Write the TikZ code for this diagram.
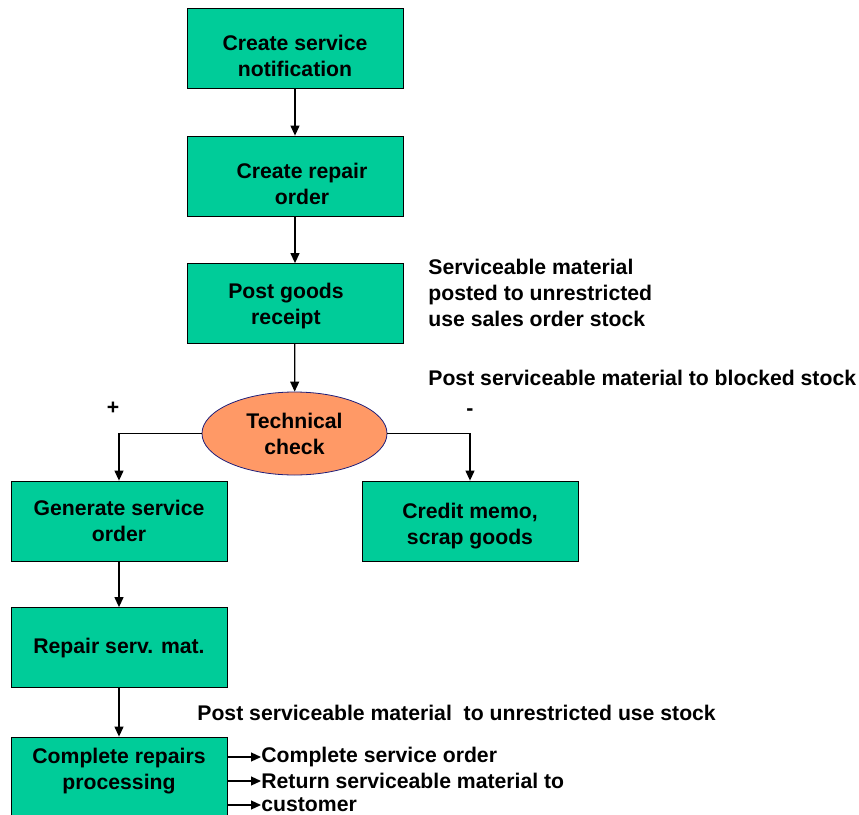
\documentclass[tikz,border=0pt]{standalone}
\usepackage{fontspec}
\setmainfont{Liberation Sans}
\usepackage{xcolor}
\usetikzlibrary{arrows.meta,positioning,shapes.geometric}

\definecolor{stepgreen}{HTML}{00CC99}
\definecolor{checkorange}{HTML}{FF9966}
\definecolor{checkline}{HTML}{1F1F7A}

\begin{document}
\begin{tikzpicture}[x=0.5pt, y=-0.5pt,
    font=\fontsize{10.6}{13}\selectfont\bfseries,
    stepbox/.style={rectangle, draw=black, fill=stepgreen, minimum width=108pt, minimum height=40pt, inner sep=0pt},
    steptext/.style={align=center, inner sep=0pt},
    checkbox/.style={ellipse, draw=checkline, fill=checkorange, minimum width=92.5pt, minimum height=41.5pt, align=center, inner sep=0pt},
    note/.style={anchor=west, align=left, inner sep=0pt},
    arr/.style={-{Triangle[length=5pt, width=4.5pt]}, black, line width=0.6pt}]

    \clip (0,0) rectangle (859,815);
    \useasboundingbox (0,0) rectangle (859,815);

    % Boxes
    \node[stepbox] (notif) at (295,48) {};
    \node[stepbox] (repord) at (295,176) {};
    \node[stepbox] (gr) at (295,303.5) {};
    \node[checkbox] (check) at (294.5,433.5) {Technical\\check};

    \node[stepbox] (gen) at (119,521) {};
    \node[stepbox] (credit) at (470,521) {};
    \node[stepbox] (repair) at (119,647.5) {};
    \node[stepbox] (complete) at (119,777) {};

    % Box texts
    \node[steptext] (notif-t) at (295,56) {Create service\\notification};
    \node[steptext] (repord-t) at (302,184) {Create repair\\order};
    \node[steptext] (gr-t) at (286,306) {Post goods\\receipt};
    \node[steptext] (gen-t) at (119,521) {Generate service\\order};
    \node[steptext] (credit-t) at (470,526) {Credit memo,\\scrap goods};
    \node[steptext] (repair-t) at (119,648) {Repair serv. mat.};
    \node[steptext] (complete-t) at (119,771) {Complete repairs\\processing};

    % Notes
    \node[note] (n1) at (428,293) {Serviceable material\\posted to unrestricted\\use sales order stock};
    \node[note] (n2) at (428,378) {Post serviceable material to blocked stock};
    \node (plus) at (113,408) {+};
    \node (minus) at (470,412) {-};
    \node[note] (n3) at (197,713) {Post serviceable material\ \ to unrestricted use stock};

    \node[note] (r1) at (261,757) {Complete service order};
    \node[note] (r2) at (261,781) {Return serviceable material to};
    \node[note] (r3) at (261,805) {customer};

    % Draw connections
    \draw[arr] (notif) -- (repord);
    \draw[arr] (repord) -- (gr);
    \draw[arr] (gr) -- (check);
    \draw[arr] (check.west) -| (gen.north);
    \draw[arr] (check.east) -| (credit.north);
    \draw[arr] (gen) -- (repair);
    \draw[arr] (repair) -- (complete);
    \foreach \r in {r1,r2,r3}
        \draw[arr] (complete.east |- \r.west) -- (\r.west);

\end{tikzpicture}
\end{document}
